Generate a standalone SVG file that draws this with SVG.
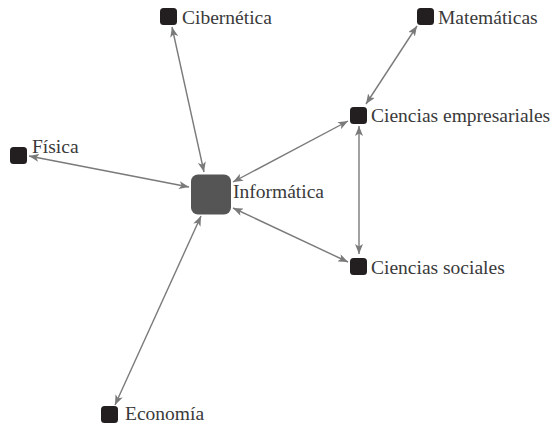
<svg xmlns="http://www.w3.org/2000/svg" width="556" height="426" viewBox="0 0 556 426">
<defs>
<marker id="ah" viewBox="0 0 10 8" refX="10" refY="4" markerWidth="10" markerHeight="8" markerUnits="userSpaceOnUse" orient="auto-start-reverse">
<path d="M0,0 L10,4 L0,8 L2.5,4 z" fill="#7a7a7a"/>
</marker>
</defs>
<style>
.e{stroke:#7a7a7a;stroke-width:1.4;fill:none;marker-start:url(#ah);marker-end:url(#ah)}
.n{fill:#231f20}
.t{font-family:"Liberation Serif","Times New Roman",serif;font-size:19.5px;fill:#3a3a3a}
</style>
<rect width="556" height="426" fill="#ffffff"/>
<g id="connectors">
<line class="e" x1="172" y1="27" x2="204" y2="172"/>
<line class="e" x1="417" y1="26" x2="366" y2="104"/>
<line class="e" x1="233" y1="182" x2="348" y2="121"/>
<line class="e" x1="359" y1="126" x2="359" y2="254"/>
<line class="e" x1="233" y1="208" x2="348" y2="262"/>
<line class="e" x1="29" y1="156" x2="189" y2="187"/>
<line class="e" x1="115" y1="405" x2="201" y2="216"/>
</g>
<g id="informatica">
<rect x="191" y="174.5" width="40" height="40" rx="7" fill="#555555"/>
<text class="t" x="233" y="198">Informática</text>
</g>
<g id="cibernetica">
<rect class="n" x="160" y="8" width="17" height="17" rx="3.5"/>
<text class="t" x="182" y="24">Cibernética</text>
</g>
<g id="matematicas">
<rect class="n" x="417" y="8" width="17" height="17" rx="3.5"/>
<text class="t" x="438" y="24">Matemáticas</text>
</g>
<g id="ciencias-empresariales">
<rect class="n" x="350" y="107" width="17" height="17" rx="3.5"/>
<text class="t" x="371" y="122">Ciencias empresariales</text>
</g>
<g id="ciencias-sociales">
<rect class="n" x="350" y="258" width="17" height="17" rx="3.5"/>
<text class="t" x="371" y="274">Ciencias sociales</text>
</g>
<g id="fisica">
<rect class="n" x="10" y="147" width="17" height="17" rx="3.5"/>
<text class="t" x="32" y="153">Física</text>
</g>
<g id="economia">
<rect class="n" x="101" y="406" width="17" height="17" rx="3.5"/>
<text class="t" x="125" y="420">Economía</text>
</g>
</svg>
